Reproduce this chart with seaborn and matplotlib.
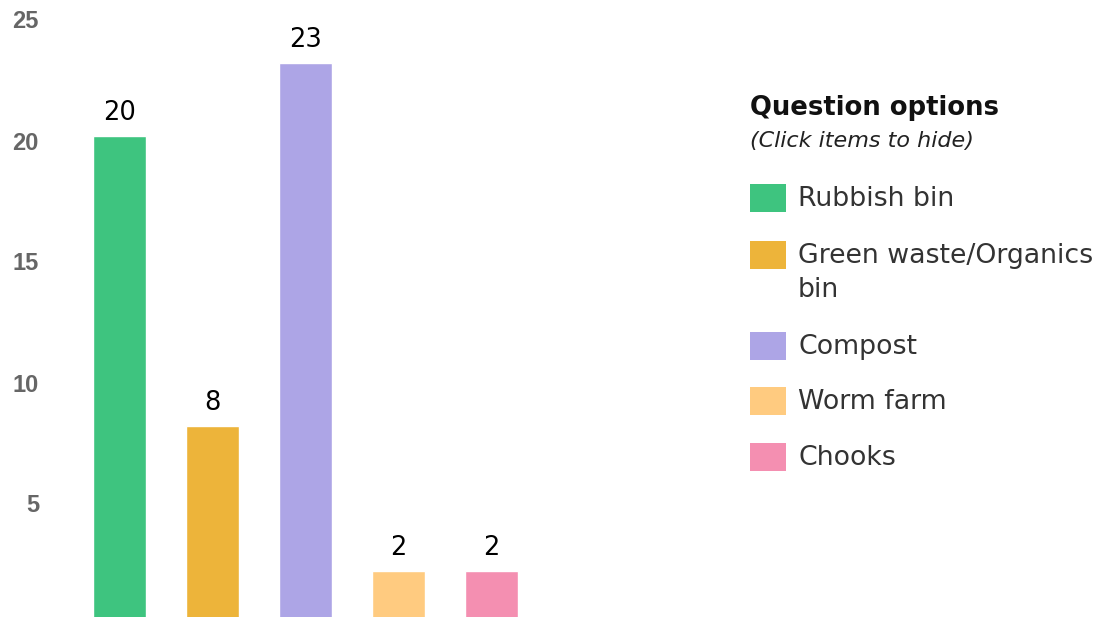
import matplotlib
matplotlib.use('Agg')
import matplotlib.pyplot as plt
import matplotlib.transforms as mtransforms
from matplotlib.patches import Rectangle
import seaborn as sns

# Data
categories = ['Rubbish bin', 'Green waste/Organics bin', 'Compost', 'Worm farm', 'Chooks']
legend_labels = ['Rubbish bin', 'Green waste/Organics\nbin', 'Compost', 'Worm farm', 'Chooks']
counts = [20, 8, 23, 2, 2]
colors = ['#3ec47f', '#edb43a', '#ada5e6', '#ffcb80', '#f48fb1']
y_ticks = [5, 10, 15, 20, 25]

W, H = 1114, 617
sns.set_theme(style='white')
plt.rcParams['font.family'] = ['DejaVu Sans']

fig = plt.figure(figsize=(W / 100, H / 100), dpi=100)

# axes placed in pixel terms: x from 50 to 561, zero line just below the image
ax = fig.add_axes([50 / W, (H - 619.5) / H, 511.5 / W, 605 / H])
sns.barplot(x=categories, y=counts, hue=categories, palette=colors,
            width=0.57, saturation=1, legend=False, ax=ax)
ax.set_xlim(-0.75, 4.75)
ax.set_ylim(0, 25)
sns.despine(ax=ax, left=True, bottom=True)
ax.set_xticks([])
ax.set_yticks(y_ticks)
ax.set_yticklabels([str(t) for t in y_ticks], fontfamily='Liberation Sans',
                   fontweight='bold', fontsize=17, color='#666666')
ax.tick_params(axis='y', length=0, pad=8)
ax.set_xlabel('')
ax.set_ylabel('')
ax.grid(False)
ax.patch.set_alpha(0)

# tick labels sit slightly below the tick value in the reference
offset = mtransforms.ScaledTranslation(0, -5 / 100, fig.dpi_scale_trans)
for lab in ax.get_yticklabels():
    lab.set_transform(lab.get_transform() + offset)

for cont in ax.containers:
    ax.bar_label(cont, padding=7, fontsize=18.5, color='black')

# legend drawn by hand to mimic the interactive legend
def fx(px):
    return px / W

def fy(py):
    return 1 - py / H

fig.text(fx(750), fy(108), 'Question options', fontsize=18.6, fontweight='bold',
         color='#111111', va='center', ha='left')
fig.text(fx(750), fy(141), '(Click items to hide)', fontsize=16, style='italic',
         color='#222222', va='center', ha='left')

item_y = [198, 255, 346, 401, 457]
for lab, col, yy in zip(legend_labels, colors, item_y):
    fig.patches.append(Rectangle((fx(750), fy(yy + 14)), 36 / W, 28 / H,
                                 transform=fig.transFigure, facecolor=col,
                                 edgecolor='none'))
    fig.text(fx(798), fy(yy + 1), lab.split('\n')[0], fontsize=19.3, color='#333333',
             va='center', ha='left')
    if '\n' in lab:
        fig.text(fx(798), fy(yy + 35), lab.split('\n')[1], fontsize=19.3,
                 color='#333333', va='center', ha='left')

fig.savefig('out.png', dpi=100)
